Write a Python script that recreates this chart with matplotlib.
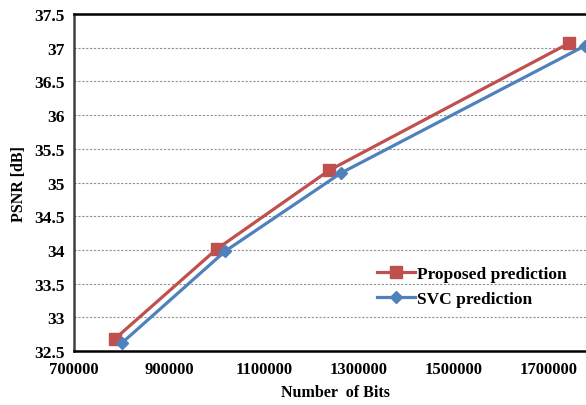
import matplotlib
matplotlib.use('Agg')
from matplotlib import pyplot as plt

# values
proposed_bits = [786000, 1000000, 1237000, 1743000]
proposed_psnr = [32.68, 34.01, 35.18, 37.07]
svc_bits = [801000, 1018000, 1262000, 1776000]
svc_psnr = [32.62, 33.98, 35.14, 37.03]
x_ticks = [700000, 900000, 1100000, 1300000, 1500000, 1700000]
y_ticks = [32.5, 33, 33.5, 34, 34.5, 35, 35.5, 36, 36.5, 37, 37.5]
y_tick_labels = ['32.5', '33', '33.5', '34', '34.5', '35', '35.5', '36', '36.5', '37', '37.5']

plt.rcParams['font.family'] = ['Liberation Serif', 'DejaVu Serif']
plt.rcParams['font.weight'] = 'bold'

fig = plt.figure(figsize=(5.86, 4.06), dpi=100)
ax = fig.add_axes([0.1263, 0.133, 0.8916, 0.830])

ax.plot(proposed_bits, proposed_psnr, color='#C0504D', lw=2.3, marker='s', ms=8,
        label='Proposed prediction', zorder=3)
ax.plot(svc_bits, svc_psnr, color='#4F81BD', lw=2.3, marker='D', ms=6.5,
        label='SVC prediction', zorder=3)

ax.set_xlim(700000, 1800000)
ax.set_ylim(32.5, 37.5)
ax.set_xticks(x_ticks)
ax.set_xticklabels([str(v) for v in x_ticks])
ax.set_yticks(y_ticks)
ax.set_yticklabels(y_tick_labels)
ax.tick_params(axis='x', length=0, labelsize=12, pad=7)
ax.tick_params(axis='y', length=0, labelsize=12.5, pad=7)
ax.grid(axis='y', color='#909090', ls=(0, (2, 1.5)), lw=0.8)
for side in ['top', 'bottom', 'left', 'right']:
    ax.spines[side].set_linewidth(1.8)
    ax.spines[side].set_color('black')
ax.spines['left'].set_color('#404040')

ax.set_xlabel('Number  of Bits', fontsize=11.5, fontweight='bold', labelpad=5)
ax.set_ylabel('PSNR [dB]', fontsize=11.5, fontweight='bold', labelpad=5)

ax.legend(loc='upper left', bbox_to_anchor=(0.55, 0.30), frameon=False,
          fontsize=12.5, handlelength=2.2, handletextpad=0.1, labelspacing=0.55)

fig.savefig('out.png', dpi=100)
